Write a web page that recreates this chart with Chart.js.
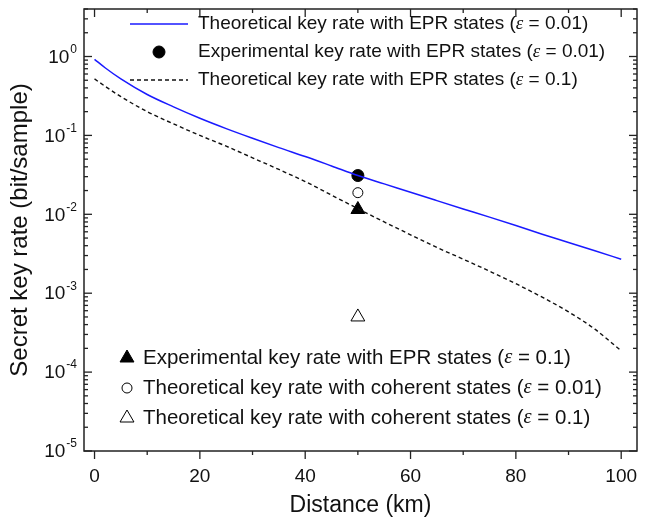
<!DOCTYPE html>
<html>
<head>
<meta charset="utf-8">
<script src="https://cdn.jsdelivr.net/npm/chart.js@4.4.1/dist/chart.umd.min.js"></script>
<style>
  body { margin: 0; background: #fff; }
</style>
</head>
<body>
<canvas id="keyRateChart" width="665" height="525"></canvas>
<script>
// distance (km) and key rates (bit/sample)
const distances = [0, 2, 5, 10, 15, 20, 25, 30, 35, 40, 45, 50, 55, 60, 65, 70, 75, 80, 85, 90, 95, 100];
const eprTheory001 = [0.92, 0.72, 0.52, 0.33, 0.23, 0.165, 0.122, 0.092, 0.070, 0.054, 0.041, 0.031,
                      0.0243, 0.0190, 0.0149, 0.0117, 0.0092, 0.0072, 0.0056, 0.0044, 0.00345, 0.0027];
const eprTheory01 = [0.52, 0.42, 0.31, 0.20, 0.140, 0.100, 0.073, 0.052, 0.037, 0.026, 0.0175, 0.0118,
                     0.0080, 0.0055, 0.0038, 0.0027, 0.0019, 0.00132, 0.00089, 0.00058, 0.00035, 0.000186];

// single measurements at 50 km
const pointDistance = [50];
const eprExp001 = [0.031];
const eprExp01 = [0.0115];
const cohTheory001 = [0.0188];
const cohTheory01 = [0.0005];

const xTicks = [0, 10, 20, 30, 40, 50, 60, 70, 80, 90, 100];
const yDecades = [-5, -4, -3, -2, -1, 0];

const SANS = '"Liberation Sans", Arial, sans-serif';
const toXY = (xs, ys) => xs.map((x, i) => ({ x: x, y: ys[i] }));

// legend rows: [dataset index, label, epsilon]
const topLegend = [
    [0, 'Theoretical key rate with EPR states ', '0.01'],
    [2, 'Experimental key rate with EPR states ', '0.01'],
    [1, 'Theoretical key rate with EPR states ', '0.1']
];
const bottomLegend = [
    [3, 'Experimental key rate with EPR states ', '0.1'],
    [4, 'Theoretical key rate with coherent states ', '0.01'],
    [5, 'Theoretical key rate with coherent states ', '0.1']
];

function drawLabel(ctx, x, y, text, eps, size) {
    ctx.textAlign = 'left';
    ctx.textBaseline = 'middle';
    ctx.fillStyle = '#111';
    ctx.font = size + 'px ' + SANS;
    ctx.fillText(text + '(', x, y);
    x += ctx.measureText(text + '(').width;
    ctx.font = 'italic ' + size + 'px "Liberation Serif", serif';
    ctx.fillText('\u03b5', x, y);
    x += ctx.measureText('\u03b5').width;
    ctx.font = size + 'px ' + SANS;
    ctx.fillText(' = ' + eps + ')', x, y);
}

function drawSample(ctx, ds, cx, cy, half) {
    ctx.save();
    if (ds.showLine) {
        ctx.strokeStyle = ds.borderColor;
        ctx.lineWidth = ds.borderWidth;
        ctx.setLineDash(ds.borderDash || []);
        ctx.beginPath();
        ctx.moveTo(cx - half, cy);
        ctx.lineTo(cx + half, cy);
        ctx.stroke();
    } else {
        ctx.fillStyle = ds.pointBackgroundColor;
        ctx.strokeStyle = ds.pointBorderColor;
        ctx.lineWidth = ds.pointBorderWidth;
        ctx.beginPath();
        const r = ds.pointRadius;
        if (ds.pointStyle === 'triangle') {
            ctx.moveTo(cx, cy - r);
            ctx.lineTo(cx + r * 0.87, cy + r * 0.5);
            ctx.lineTo(cx - r * 0.87, cy + r * 0.5);
            ctx.closePath();
        } else {
            ctx.arc(cx, cy, r, 0, Math.PI * 2);
        }
        ctx.fill();
        ctx.stroke();
    }
    ctx.restore();
}

const frameAndLegend = {
    id: 'frameAndLegend',
    afterDraw(chart) {
        const { ctx, chartArea: a, scales: { x, y } } = chart;
        ctx.save();
        ctx.strokeStyle = '#222';
        ctx.lineWidth = 1.5;
        ctx.strokeRect(a.left, a.top, a.right - a.left, a.bottom - a.top);

        const seg = (x1, y1, x2, y2) => {
            ctx.beginPath();
            ctx.moveTo(x1, y1);
            ctx.lineTo(x2, y2);
            ctx.stroke();
        };

        ctx.lineWidth = 1.3;
        xTicks.forEach(v => {
            const px = x.getPixelForValue(v);
            const len = v % 20 === 0 ? 8 : 4;
            seg(px, a.bottom, px, a.bottom + len);
            seg(px, a.top, px, a.top + len);
        });

        yDecades.forEach(d => {
            for (let m = 1; m <= 9; m++) {
                const v = m * Math.pow(10, d);
                if (v > y.max) break;
                const py = y.getPixelForValue(v);
                const len = m === 1 ? 8 : 4;
                seg(a.left, py, a.left + len, py);
                seg(a.right, py, a.right - len, py);
            }
            // 10^n labels
            const py = y.getPixelForValue(Math.pow(10, d));
            const exp = String(d);
            ctx.fillStyle = '#111';
            ctx.textBaseline = 'middle';
            ctx.textAlign = 'right';
            ctx.font = '12px ' + SANS;
            const expW = ctx.measureText(exp).width;
            const right = a.left - 7;
            ctx.fillText(exp, right, py - 7);
            ctx.font = '19px ' + SANS;
            ctx.fillText('10', right - expW - 1, py + 1);
        });

        const ds = chart.data.datasets;
        topLegend.forEach((row, i) => {
            const cy = 24 + i * 28;
            drawSample(ctx, ds[row[0]], 159, cy, 29);
            drawLabel(ctx, 198, cy, row[1], row[2], 19);
        });
        bottomLegend.forEach((row, i) => {
            const cy = 358 + i * 30;
            drawSample(ctx, ds[row[0]], 127, cy, 0);
            drawLabel(ctx, 143, cy, row[1], row[2], 20.5);
        });
        ctx.restore();
    }
};

new Chart(document.getElementById('keyRateChart'), {
    type: 'scatter',
    data: {
        datasets: [
            {
                data: toXY(distances, eprTheory001),
                showLine: true,
                borderColor: '#1a1aff',
                borderWidth: 1.5,
                pointRadius: 0,
                cubicInterpolationMode: 'monotone'
            },
            {
                data: toXY(distances, eprTheory01),
                showLine: true,
                borderColor: '#111',
                borderWidth: 1.4,
                borderDash: [4, 3],
                pointRadius: 0,
                cubicInterpolationMode: 'monotone'
            },
            {
                data: toXY(pointDistance, eprExp001),
                pointStyle: 'circle',
                pointRadius: 6,
                pointBackgroundColor: '#000',
                pointBorderColor: '#000',
                pointBorderWidth: 1
            },
            {
                data: toXY(pointDistance, eprExp01),
                pointStyle: 'triangle',
                pointRadius: 8,
                pointBackgroundColor: '#000',
                pointBorderColor: '#000',
                pointBorderWidth: 1
            },
            {
                data: toXY(pointDistance, cohTheory001),
                pointStyle: 'circle',
                pointRadius: 5,
                pointBackgroundColor: '#fff',
                pointBorderColor: '#000',
                pointBorderWidth: 1
            },
            {
                data: toXY(pointDistance, cohTheory01),
                pointStyle: 'triangle',
                pointRadius: 8,
                pointBackgroundColor: '#fff',
                pointBorderColor: '#000',
                pointBorderWidth: 1
            }
        ]
    },
    options: {
        responsive: false,
        animation: false,
        layout: { padding: { top: 5, right: 28, left: 0, bottom: 0 } },
        plugins: {
            legend: { display: false },
            tooltip: { enabled: false }
        },
        scales: {
            x: {
                type: 'linear',
                min: -2,
                max: 103,
                grid: { display: false },
                border: { display: false },
                afterBuildTicks: s => { s.ticks = xTicks.map(v => ({ value: v })); },
                afterFit: s => { s.height = 74; },
                ticks: {
                    autoSkip: false,
                    maxRotation: 0,
                    padding: 6,
                    color: '#111',
                    font: { family: SANS, size: 19 },
                    callback: v => (v % 20 === 0 ? v : '')
                },
                title: {
                    display: true,
                    text: 'Distance (km)',
                    color: '#111',
                    font: { family: SANS, size: 23 },
                    padding: { top: 0, bottom: 6 }
                }
            },
            y: {
                type: 'logarithmic',
                min: 1e-5,
                max: 4,
                grid: { display: false },
                border: { display: false },
                afterBuildTicks: s => { s.ticks = yDecades.map(d => ({ value: Math.pow(10, d) })); },
                afterFit: s => { s.width = 84; },
                ticks: { display: false },
                title: {
                    display: true,
                    text: 'Secret key rate (bit/sample)',
                    color: '#111',
                    font: { family: SANS, size: 24 },
                    padding: { top: 6, bottom: 0 }
                }
            }
        }
    },
    plugins: [frameAndLegend]
});
</script>
</body>
</html>
